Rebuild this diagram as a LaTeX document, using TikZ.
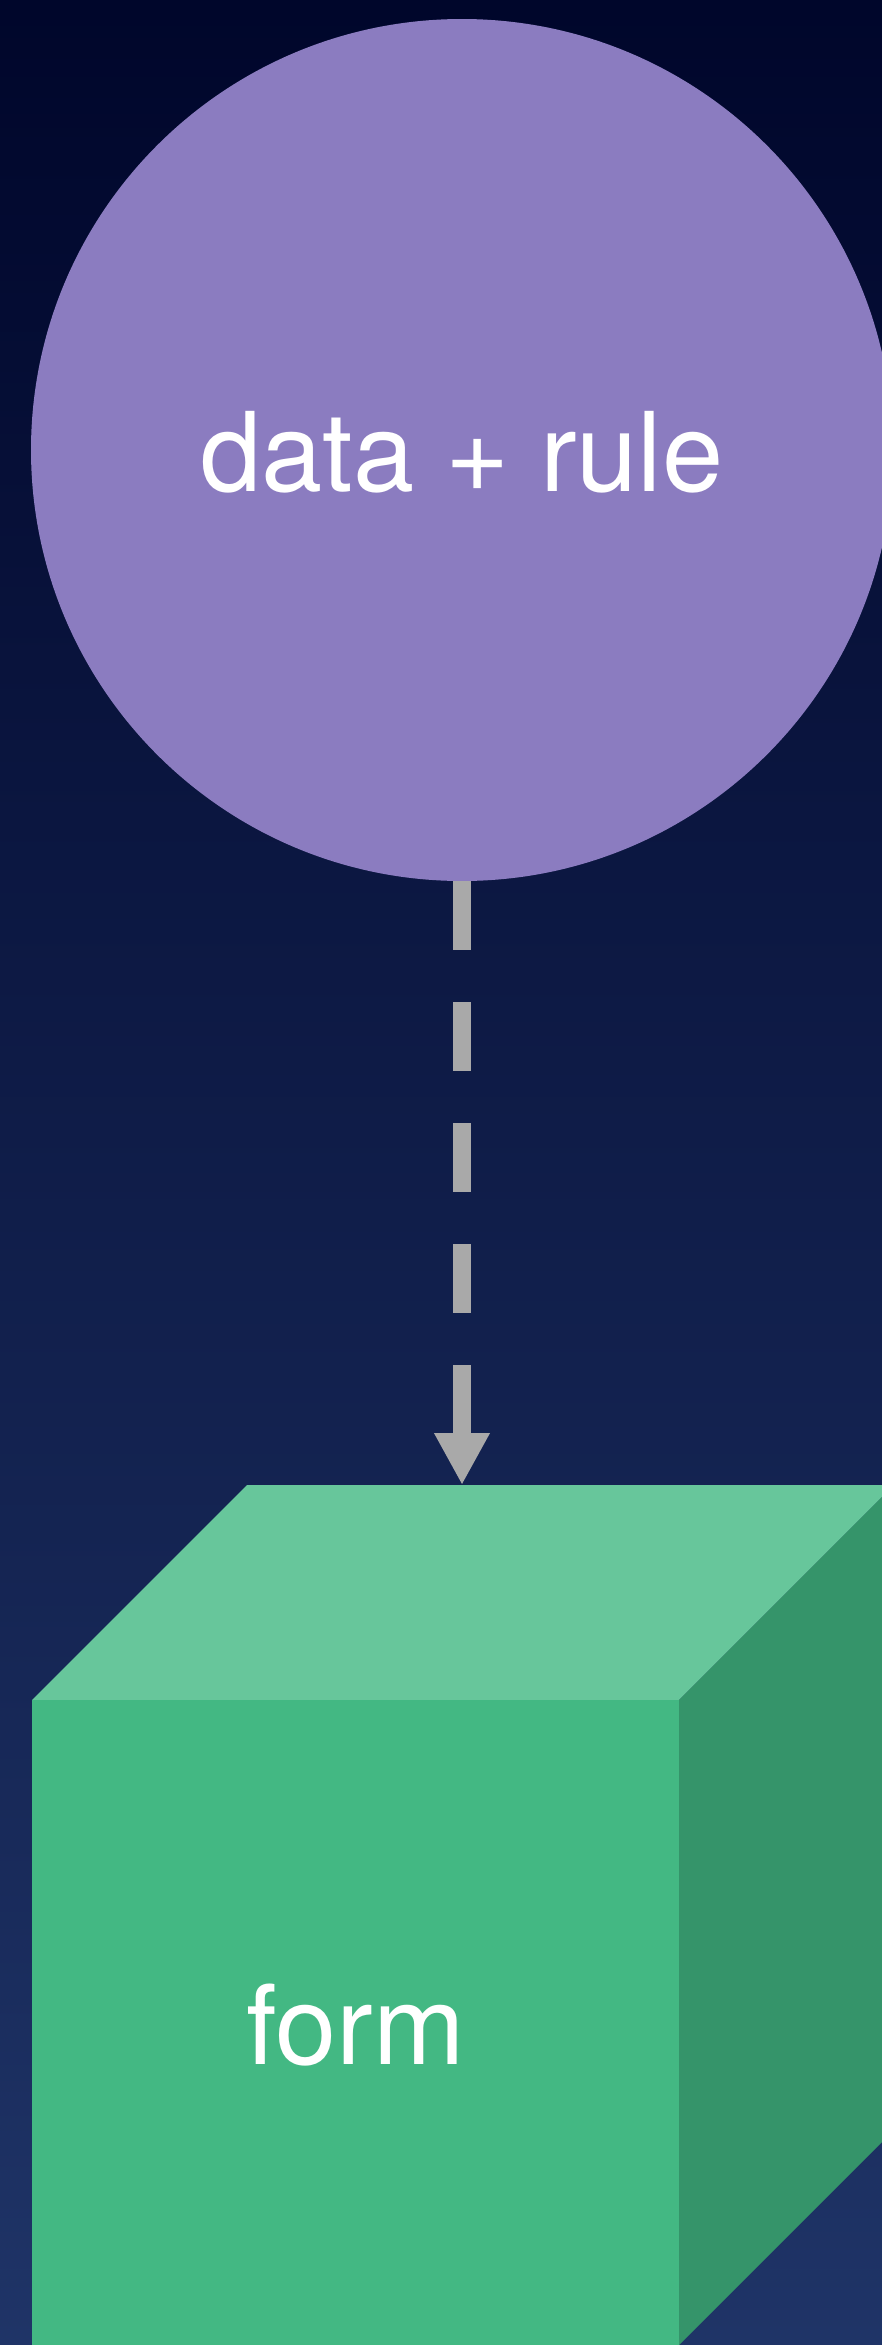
\documentclass[tikz,border=0pt]{standalone}
\usepackage{fontspec}
\setmainfont{TeX Gyre Heros}
\usetikzlibrary{arrows.meta}
\definecolor{bgtop}{HTML}{00062B}
\definecolor{bgbot}{HTML}{1F3467}
\definecolor{circfill}{HTML}{8B7CC0}
\definecolor{frontfill}{HTML}{43B883}
\definecolor{topfill}{HTML}{67C69B}
\definecolor{sidefill}{HTML}{35946A}
\definecolor{arrcol}{HTML}{A9A9A9}
\tikzset{
  bigtext/.style={text=white, font=\fontsize{110}{132}\selectfont, text height=83pt, text depth=0pt},
  srcnode/.style={circle, fill=circfill, minimum size=862pt, inner sep=0pt, bigtext},
  frontnode/.style={rectangle, fill=frontfill, minimum width=647pt, minimum height=645pt, inner sep=0pt, bigtext},
  flowarrow/.style={draw=arrcol, line width=18pt, dash pattern=on 69pt off 52pt, -{Triangle[length=52pt,width=52pt]}}
}
\begin{document}
\begin{tikzpicture}[x=1pt,y=-1pt]
\useasboundingbox (0,0) rectangle (882,2345);
\clip (0,0) rectangle (882,2345);
\shade[top color=bgtop, bottom color=bgbot] (0,0) rectangle (882,2345);
% source circle
\node[srcnode] (src) at (462,450) {data + rule};
% cube
\fill[topfill] (32,1700) -- (247,1485) -- (894,1485) -- (679,1700) -- cycle;
\fill[sidefill] (679,1700) -- (894,1485) -- (894,2130) -- (679,2345) -- cycle;
\node[frontnode] (form) at (355.5,2022.5) {form};
\coordinate (cubetop) at (462,1485);
% connector
\draw[flowarrow] (src.south) -- (cubetop);
\end{tikzpicture}
\end{document}
